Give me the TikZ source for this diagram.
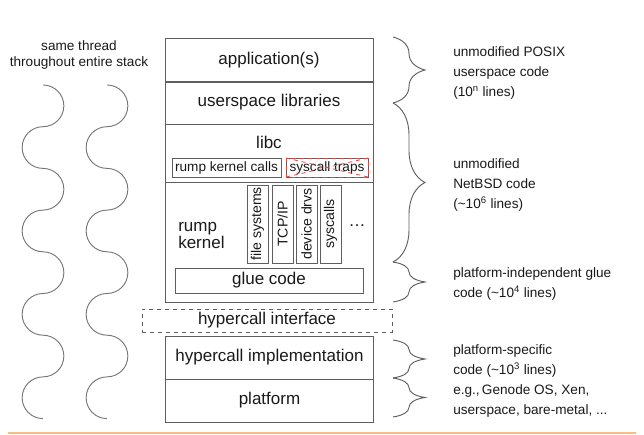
\documentclass[tikz,border=0pt]{standalone}
\usepackage{fontspec}
\setmainfont{Liberation Sans}
\usetikzlibrary{decorations.pathreplacing}

\definecolor{linegray}{HTML}{5E5E5E}
\definecolor{crossred}{HTML}{E5474A}
\definecolor{rulegold}{HTML}{F8BD83}
\newcommand\layerfont{\fontsize{12.75}{13}\selectfont}
\newcommand\notefont{\fontsize{10.2}{15}\selectfont}

\begin{document}
\begin{tikzpicture}[x=0.75pt, y=0.75pt, text=black!90,
  layer/.style={draw=linegray, line width=0.7pt, minimum width=156pt, inner sep=0pt, outer sep=0pt, font=\layerfont},
  part/.style={draw=linegray, line width=0.6pt, inner sep=0pt, outer sep=0pt, font=\notefont},
  note/.style={anchor=west, align=left, inner sep=0pt, font=\notefont},
  codebrace/.style={draw=linegray, line width=0.7pt, decorate, decoration={brace, amplitude=24pt}},
  wave/.style={draw=linegray!85, line width=0.7pt}]
  \useasboundingbox (0,0) rectangle (644,435);
  % --- threads ---
  \node[note, anchor=center, align=center, font=\fontsize{10.2}{11.5}\selectfont] (thread) at (79,380) {same thread\\throughout entire stack};
  \draw[wave] (43,350) \foreach \k in {1,...,4} { arc(90:-90:20.85) arc(90:270:20.85) };
  \draw[wave] (107,350) \foreach \k in {1,...,4} { arc(90:-90:20.85) arc(90:270:20.85) };
  % --- userspace ---
  \node[layer, minimum height=33pt] (app) at (269,375) {application(s)};
  \node[layer, minimum height=32.25pt] (libs) at (269,332.5) {userspace libraries};
  % --- libc ---
  \node[layer, minimum height=43.5pt] (libcbox) at (269,282) {};
  \node[font=\layerfont, anchor=base] (libc) at (269,286) {libc};
  \node[part, minimum width=81.75pt, minimum height=14.25pt] (rkcalls) at (226.5,267.5) {rump kernel calls};
  \node[part, minimum width=61.5pt, minimum height=14.25pt] (traps) at (327,267.5) {syscall traps};
  \draw[crossred, dashed, line width=0.6pt] (traps.north west) rectangle (traps.south east);
  \draw[crossred, dashed, line width=0.6pt] (traps.north west) -- (traps.south east);
  \draw[crossred, dashed, line width=0.6pt] (traps.south west) -- (traps.north east);
  % --- rump kernel ---
  \node[layer, minimum height=90pt] (rumpbox) at (269,193) {};
  \node[font=\layerfont, align=left, anchor=west, inner sep=0pt] (rump) at (178,199.5) {rump\\kernel};
  \node[part, rotate=90, minimum width=58.5pt, minimum height=15.75pt, font=\fontsize{10.6}{12}\selectfont] (fs) at (257.5,211) {file systems};
  \node[part, rotate=90, minimum width=58.5pt, minimum height=15.75pt, font=\fontsize{10.6}{12}\selectfont] (tcp) at (282.5,211) {TCP/IP};
  \node[part, rotate=90, minimum width=58.5pt, minimum height=15.75pt, font=\fontsize{10.6}{12}\selectfont] (drvs) at (306.5,211) {device drvs};
  \node[part, rotate=90, minimum width=58.5pt, minimum height=15.75pt, font=\fontsize{10.6}{12}\selectfont] (sysc) at (330.5,211) {syscalls};
  \node[font=\layerfont] (more) at (357,209) {\dots};
  \node[part, font=\layerfont, minimum width=141pt, minimum height=18.75pt] (glue) at (269,154.5) {glue code};
  % --- hypercalls ---
  \node[layer, dashed, minimum width=187.5pt, minimum height=17.25pt] (hcif) at (267,114.5) {hypercall interface};
  \node[layer, minimum height=32.25pt] (hcimpl) at (269.5,77.5) {hypercall implementation};
  \node[layer, minimum height=32.25pt] (platform) at (269.5,34.5) {platform};
  % --- braces ---
  \draw[codebrace] (393,398) -- (393,332);
  \draw[codebrace] (393,332) -- (393,173);
  \draw[codebrace] (393,173) -- (393,133);
  \draw[codebrace] (393,95) -- (393,57);
  \draw[codebrace] (393,57) -- (393,18);
  % --- notes ---
  \node[note] (posix) at (453,362.5) {unmodified POSIX\\userspace code\\(10\textsuperscript{n} lines)};
  \node[note] (netbsd) at (453,250) {unmodified\\NetBSD code\\(\textasciitilde10\textsuperscript{6} lines)};
  \node[note] (gluenote) at (453,151.5) {platform-independent glue\\code (\textasciitilde10\textsuperscript{4} lines)};
  \node[note] (platnote) at (453,54) {platform-specific\\code (\textasciitilde10\textsuperscript{3} lines)\\e.g.,\,Genode OS, Xen,\\userspace, bare-metal, ...};
  \draw[rulegold, line width=1.5pt] (8,2) -- (636,2);
\end{tikzpicture}
\end{document}
